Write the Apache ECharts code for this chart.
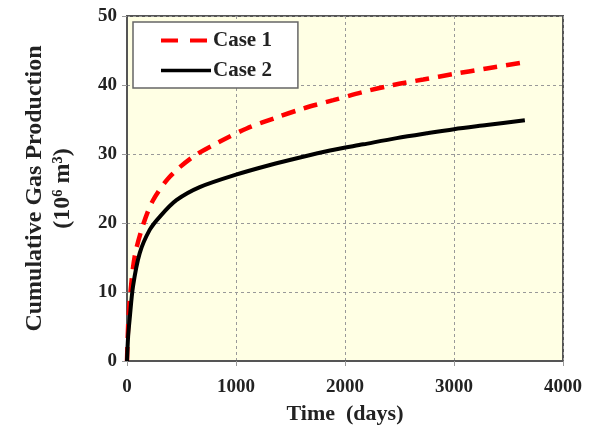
<!DOCTYPE html>
<html><head><meta charset="utf-8">
<script src="https://cdn.jsdelivr.net/npm/echarts@6/dist/echarts.min.js"></script>
<style>html,body{margin:0;padding:0;background:#fff}#c{width:593px;height:431px}</style>
</head><body><div id="c"></div>
<script>
const case1Days = [0, 10, 25, 70, 147, 239, 392, 606, 853, 1098, 1373, 1618, 1893, 2168, 2443, 2718, 3000, 3300, 3650];
const case1Vals = [0, 5, 8.8, 15.1, 19.7, 23.3, 26.7, 29.6, 31.8, 33.7, 35.3, 36.6, 37.8, 39.0, 40.0, 40.8, 41.6, 42.4, 43.3];
const case2Days = [0, 10, 25, 55, 116, 208, 300, 453, 667, 1000, 1312, 1587, 1862, 2168, 2474, 2749, 3000, 3300, 3650];
const case2Vals = [0, 3.5, 6.2, 10.8, 15.6, 19.0, 20.9, 23.3, 25.2, 27.0, 28.4, 29.5, 30.5, 31.4, 32.3, 33.0, 33.6, 34.2, 34.9];
const xTicks = [0, 1000, 2000, 3000, 4000];
const yTicks = [0, 10, 20, 30, 40, 50];

const font = 'Liberation Serif';
const chart = echarts.init(document.getElementById('c'));
chart.setOption({
  animation: false,
  grid: {left: 127, right: 30, top: 16, bottom: 70, outerBoundsMode: 'none', containLabel: false,
         show: true, backgroundColor: '#FFFFE4', borderColor: '#555', borderWidth: 2},
  legend: {
    left: 133, top: 22, orient: 'vertical', itemWidth: 50, itemHeight: 14, itemGap: 9,
    padding: [8, 26, 7, 26],
    backgroundColor: '#fff', borderColor: '#666', borderWidth: 1.5,
    itemStyle: {opacity: 0},
    textStyle: {fontFamily: font, fontWeight: 'bold', fontSize: 21, color: '#222', padding: [0, 0, 0, -3]},
    data: [
      {name: 'Case 1', lineStyle: {color: '#FF0000', width: 4, type: [17, 12], dashOffset: 0}},
      {name: 'Case 2', lineStyle: {color: '#000', width: 3.5, type: 'solid'}}
    ]
  },
  xAxis: {
    type: 'value', min: xTicks[0], max: xTicks[xTicks.length-1], interval: 1000,
    name: 'Time  (days)', nameLocation: 'middle', nameGap: 42,
    nameTextStyle: {fontFamily: font, fontWeight: 'bold', fontSize: 22, color: '#222'},
    axisLine: {show: true, onZero: false, lineStyle: {color: '#555', width: 2}},
    axisTick: {show: true, length: 5, lineStyle: {color: '#999'}},
    axisLabel: {fontFamily: font, fontWeight: 'bold', fontSize: 19, color: '#222', margin: 17, formatter: v => String(v)},
    splitLine: {show: true, lineStyle: {color: '#999', type: [3, 3], width: 1}}
  },
  yAxis: {
    type: 'value', min: yTicks[0], max: yTicks[yTicks.length-1], interval: 10,
    name: 'Cumulative Gas Production\n(10\u2076 m\u00B3)', nameLocation: 'middle', nameGap: 50, nameRotate: 90,
    nameTextStyle: {fontFamily: font, fontWeight: 'bold', fontSize: 24, color: '#222', lineHeight: 28, align: 'center'},
    axisLine: {show: true, lineStyle: {color: '#555', width: 2}},
    axisTick: {show: true, length: 5, lineStyle: {color: '#999'}},
    axisLabel: {fontFamily: font, fontWeight: 'bold', fontSize: 19, color: '#222', margin: 10},
    splitLine: {show: true, lineStyle: {color: '#999', type: [3, 3], width: 1}}
  },
  series: [
    {name: 'Case 1', type: 'line', smooth: 0.3, showSymbol: false, symbol: 'none',
     data: case1Days.map((d, i) => [d, case1Vals[i]]),
     lineStyle: {color: '#FF0000', width: 4.5, type: [14, 9]}, itemStyle: {color: '#FF0000'}},
    {name: 'Case 2', type: 'line', smooth: 0.3, showSymbol: false, symbol: 'none',
     data: case2Days.map((d, i) => [d, case2Vals[i]]),
     lineStyle: {color: '#000', width: 4}, itemStyle: {color: '#000'}}
  ]
});
</script></body></html>
